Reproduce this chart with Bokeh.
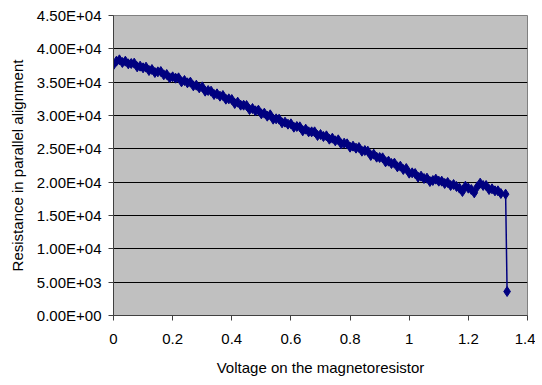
from bokeh.plotting import figure
from bokeh.models import FixedTicker, ColumnDataSource
from bokeh.embed import file_html
from bokeh.resources import INLINE

voltage = [
    0.00, 0.01, 0.02, 0.03, 0.04, 0.05, 0.06, 0.07, 0.08, 0.09,
    0.10, 0.11, 0.12, 0.13, 0.14, 0.15, 0.16, 0.17, 0.18, 0.19,
    0.20, 0.21, 0.22, 0.23, 0.24, 0.25, 0.26, 0.27, 0.28, 0.29,
    0.30, 0.31, 0.32, 0.33, 0.34, 0.35, 0.36, 0.37, 0.38, 0.39,
    0.40, 0.41, 0.42, 0.43, 0.44, 0.45, 0.46, 0.47, 0.48, 0.49,
    0.50, 0.51, 0.52, 0.53, 0.54, 0.55, 0.56, 0.57, 0.58, 0.59,
    0.60, 0.61, 0.62, 0.63, 0.64, 0.65, 0.66, 0.67, 0.68, 0.69,
    0.70, 0.71, 0.72, 0.73, 0.74, 0.75, 0.76, 0.77, 0.78, 0.79,
    0.80, 0.81, 0.82, 0.83, 0.84, 0.85, 0.86, 0.87, 0.88, 0.89,
    0.90, 0.91, 0.92, 0.93, 0.94, 0.95, 0.96, 0.97, 0.98, 0.99,
    1.00, 1.01, 1.02, 1.03, 1.04, 1.05, 1.06, 1.07, 1.08, 1.09,
    1.10, 1.11, 1.12, 1.13, 1.14, 1.15, 1.16, 1.17, 1.18, 1.19,
    1.20, 1.21, 1.22, 1.23, 1.24, 1.25, 1.26, 1.27, 1.28, 1.29,
    1.30, 1.31, 1.326, 1.331,
]

resistance = [
    37600, 38150, 38350, 37950, 38150, 37750, 37800, 37850, 37300, 37400,
    37150, 37250, 36750, 36900, 36450, 36550, 36600, 36100, 36150, 35650,
    35800, 35600, 35650, 35050, 35250, 34900, 35000, 34450, 34550, 34150,
    34300, 33650, 33750, 33650, 33150, 33250, 32900, 33000, 32450, 32500,
    32400, 31800, 32000, 31550, 31550, 31500, 30900, 31050, 30700, 30800,
    30250, 30350, 29900, 30100, 29450, 29500, 29450, 28900, 29000, 28700,
    28750, 28250, 28350, 28300, 27700, 27950, 27550, 27550, 27550, 27000,
    27150, 26850, 26950, 26450, 26600, 26200, 26350, 25750, 25850, 25750,
    25250, 25400, 25100, 25200, 24650, 24750, 24650, 24000, 24200, 23750,
    23700, 23650, 23050, 23150, 22800, 22850, 22300, 22400, 21900, 22050,
    21350, 21400, 21300, 20750, 20900, 20550, 20600, 20100, 20250, 20450,
    20150, 20150, 19800, 19950, 19500, 19650, 19350, 19100, 18600, 19400,
    19100, 18900, 18400, 19300, 19850, 19500, 19500, 18900, 19000, 18700,
    18700, 18300, 18200, 3600,
]

x_ticks = [0, 0.2, 0.4, 0.6, 0.8, 1.0, 1.2, 1.4]
x_tick_labels = ["0", "0.2", "0.4", "0.6", "0.8", "1", "1.2", "1.4"]
y_ticks = [0, 5000, 10000, 15000, 20000, 25000, 30000, 35000, 40000, 45000]
y_tick_labels = ["0.00E+00", "5.00E+03", "1.00E+04", "1.50E+04", "2.00E+04",
                 "2.50E+04", "3.00E+04", "3.50E+04", "4.00E+04", "4.50E+04"]

FONT = "Liberation Sans"

p = figure(width=535, height=378, output_backend="svg", toolbar_location=None,
           x_range=(0, 1.4), y_range=(0, 45000),
           min_border_left=113, min_border_right=8, min_border_top=15, min_border_bottom=61)

p.background_fill_color = "#C0C0C0"
p.border_fill_color = "white"
p.outline_line_color = "#808080"
p.outline_line_width = 1

src = ColumnDataSource(dict(x=voltage, y=resistance))
p.line("x", "y", source=src, line_color="#000080", line_width=1.5)
p.scatter("x", "y", source=src, marker="diamond", size=10,
          fill_color="#000080", line_color="#000080")

p.xaxis.ticker = FixedTicker(ticks=x_ticks)
p.yaxis.ticker = FixedTicker(ticks=y_ticks)
p.xaxis.major_label_overrides = dict(zip(x_ticks, x_tick_labels))
p.yaxis.major_label_overrides = dict(zip(y_ticks, y_tick_labels))

p.xgrid.grid_line_color = None
p.ygrid.grid_line_color = "black"
p.ygrid.grid_line_width = 1

for ax in (p.xaxis[0], p.yaxis[0]):
    ax.axis_line_color = "#404040"
    ax.major_tick_line_color = "#404040"
    ax.major_tick_out = 5
    ax.major_tick_in = 0
    ax.minor_tick_line_color = None
    ax.major_label_text_font = FONT
    ax.major_label_text_font_size = "15px"
    ax.major_label_text_color = "black"
    ax.axis_label_text_font = FONT
    ax.axis_label_text_font_size = "15px"
    ax.axis_label_text_font_style = "normal"
    ax.axis_label_text_color = "black"

p.xaxis.axis_label = "Voltage on the magnetoresistor"
p.yaxis.axis_label = "Resistance in parallel alignment"
p.xaxis.major_label_standoff = 13
p.xaxis.axis_label_standoff = 12
p.yaxis.major_label_standoff = 7
p.yaxis.axis_label_standoff = 8

open("out.html", "w").write(file_html(p, INLINE))
